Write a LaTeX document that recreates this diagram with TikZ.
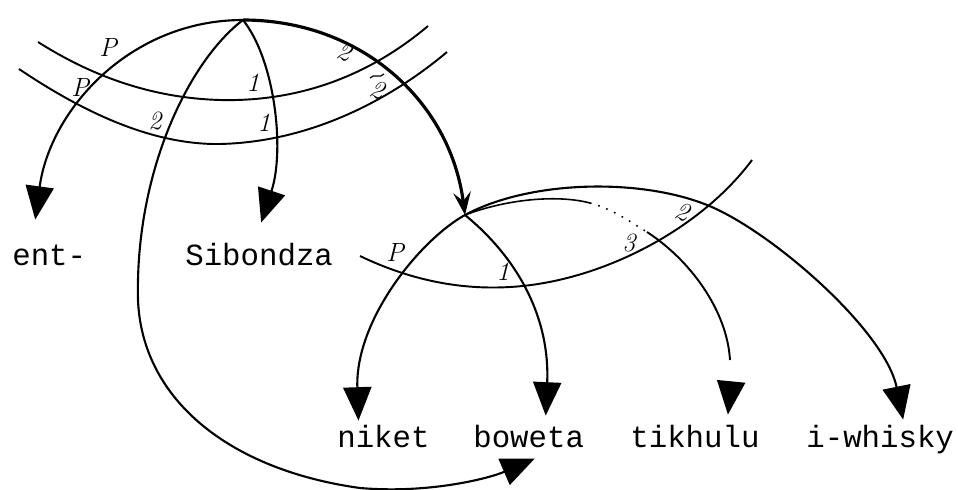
\documentclass[tikz,border=0pt]{standalone}
\usepackage{fontspec}
\newfontfamily\wordfont{Liberation Mono}
\usetikzlibrary{arrows.meta, calc}

\begin{document}
\begin{tikzpicture}[x=0.02cm, y=-0.02cm,
  word/.style={font=\wordfont\fontsize{17.5}{20}\selectfont, inner sep=0pt,
               text height=12pt, text depth=3pt, anchor=base west},
  lbl/.style={font=\itshape\fontsize{15}{18}\selectfont, inner sep=0pt},
  band/.style={line width=1.1pt},
  dep/.style={-{Triangle[width=16pt, length=19pt]}, line width=1.2pt},
  head/.style={-{Stealth[length=13pt, width=10pt, inset=5pt]}, line width=1.8pt},
]
  \useasboundingbox (0,0) rectangle (958,490);

  % Heads
  \coordinate (r)  at (243,20);
  \coordinate (r2) at (465,215);

  % Words
  \node[word] (ent)      at (12,265)  {ent-};
  \node[word] (sibondza) at (185,265) {Sibondza};
  \node[word] (niket)    at (337,447) {niket};
  \node[word] (boweta)   at (473,447) {boweta};
  \node[word] (tikhulu)  at (630,447) {tikhulu};
  \node[word] (whisky)   at (806,447) {i-whisky};

  % Bands of the first head
  \draw[band] (38,42) .. controls (90,75) and (150,98) .. (220,100)
                      .. controls (300,102) and (370,75) .. (428,26);
  \draw[band] (19,69) .. controls (80,110) and (150,145) .. (220,144)
                      .. controls (310,142) and (390,100) .. (447,52);

  % Band of the second head
  \draw[band] (360,256) .. controls (410,280) and (460,290) .. (510,287)
                        .. controls (600,282) and (700,230) .. (752,160);

  % Arcs from the first head
  \draw[dep]  (r) .. controls (130,20) and (50,110) .. ($(ent.north)+(-14,-24)$);
  \draw[dep]  (r) .. controls (275,60) and (285,150) .. ($(sibondza.north)+(2,-21)$);
  \draw[head] (r) .. controls (360,20) and (450,100) .. (r2);
  \draw[dep]  (r) .. controls (190,60) and (135,170) .. (138,300)
                  .. controls (142,400) and (230,470) .. (360,488)
                  .. controls (430,494) and (490,478) .. ($(boweta.south)+(6,6)$);

  % Arcs from the second head
  \draw[dep] (r2) .. controls (420,240) and (355,320) .. ($(niket.north)+(-25,-5)$);
  \draw[dep] (r2) .. controls (520,260) and (550,320) .. ($(boweta.north)+(17,-10)$);
  \draw[dep] (r2) .. controls (530,180) and (640,178) .. (707,205)
                  .. controls (770,230) and (885,330) .. ($(whisky.north)+(23,-6)$);

  % Broken arc to tikhulu
  \coordinate (tk1) at (590,203);
  \coordinate (tk2) at (647,232);
  \coordinate (tk3) at (730,360);
  \coordinate (tk4) at (731,383);
  \draw[line width=0.9pt] (r2) .. controls (510,198) and (560,195) .. (tk1);
  \draw[line width=0.9pt, loosely dotted] (tk1) .. controls (615,210) and (630,222) .. (tk2);
  \draw[line width=1.1pt] (tk2) .. controls (690,260) and (727,310) .. (tk3);
  \draw[dep] (tk4) -- ($(tikhulu.north)+(33,-11)$);

  % Labels
  \node[lbl] (p1) at (108,47)  {P};
  \node[lbl] (p2) at (80,87)   {P};
  \node[lbl] (a1) at (155,121) {2};
  \node[lbl] (b1) at (253,83)  {1};
  \node[lbl] (b2) at (264,123) {1};
  \node[lbl, rotate=-20] (c1) at (345,52) {2};
  \node[lbl, rotate=-20] (c2) at (378,90) {2};
  \draw[line width=0.7pt] ($(c2.center)+(-8,-12)$)
        .. controls +(4,-5) and +(-4,5) .. ($(c2.center)+(6,-16)$);
  \node[lbl] (p3) at (395,252) {P};
  \node[lbl] (d1) at (503,272) {1};
  \node[lbl] (e1) at (629,243) {3};
  \node[lbl, rotate=-20] (f1) at (683,212) {2};
\end{tikzpicture}
\end{document}
